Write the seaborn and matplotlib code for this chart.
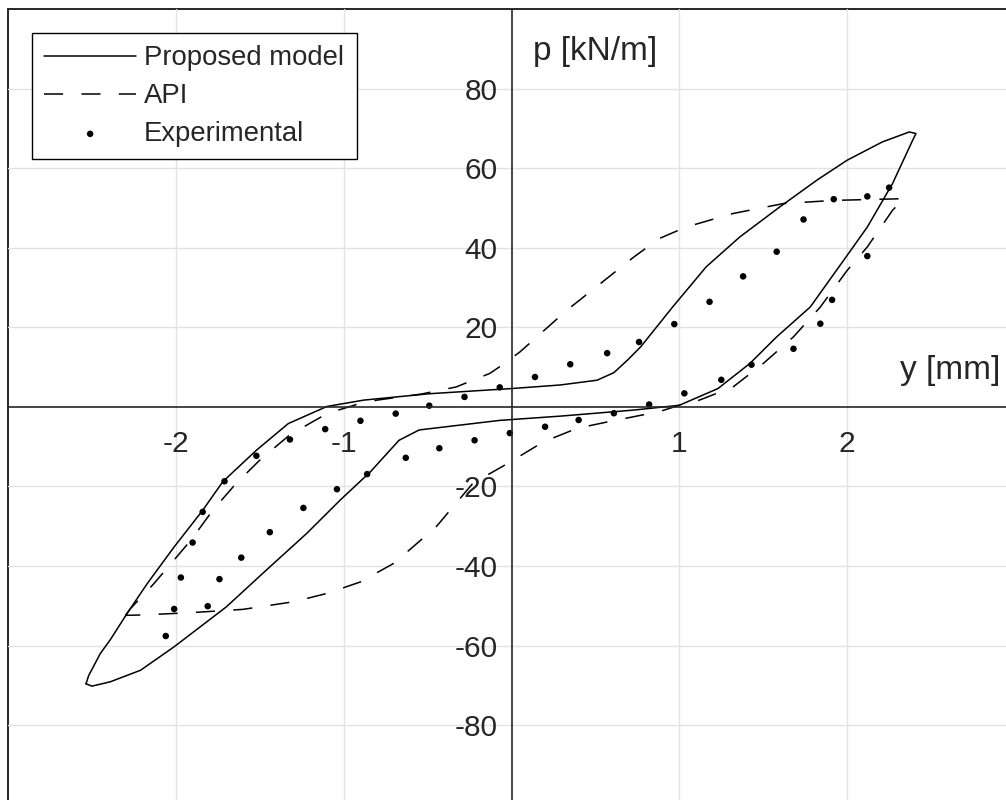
import matplotlib
matplotlib.use("Agg")
import matplotlib.pyplot as plt
import pandas as pd
import seaborn as sns

# Experimental cyclic p-y measurements (y in mm, p in kN/m)
exp_y = [-2.06, -2.01, -1.97, -1.90, -1.84, -1.71, -1.52, -1.32, -1.11, -0.90,
         -0.69, -0.49, -0.28, -0.07, 0.14, 0.35, 0.57, 0.76, 0.97, 1.18,
         1.38, 1.58, 1.74, 1.92, 2.12, 2.25,
         2.12, 1.91, 1.84, 1.68, 1.43, 1.25, 1.03, 0.82, 0.61, 0.40,
         0.20, -0.01, -0.22, -0.43, -0.63, -0.86, -1.04, -1.24, -1.44, -1.61,
         -1.74, -1.81]
exp_p = [-57.6, -50.8, -42.9, -34.1, -26.4, -18.7, -12.3, -8.2, -5.6, -3.5,
         -1.7, 0.3, 2.5, 4.9, 7.5, 10.7, 13.5, 16.3, 20.8, 26.4,
         32.8, 39.0, 47.1, 52.2, 52.9, 55.1,
         37.9, 26.9, 20.9, 14.6, 10.6, 6.8, 3.4, 0.6, -1.6, -3.3,
         -5.0, -6.6, -8.4, -10.4, -12.8, -16.9, -20.7, -25.4, -31.5, -37.9,
         -43.3, -50.1]

# Proposed model hysteresis loop (reloading branch, then unloading branch)
model_y = [-2.535, -2.52, -2.45, -2.39, -2.29, -2.17, -2.01, -1.84, -1.72, -1.52,
           -1.33, -1.10, -0.88, -0.49, 0.00, 0.29, 0.51, 0.61, 0.69, 0.77,
           0.96, 1.16, 1.36, 1.60, 1.82, 2.00, 2.21, 2.37, 2.41,
           2.39, 2.27, 2.12, 1.98, 1.78, 1.58, 1.42, 1.23, 1.00, 0.73,
           0.30, -0.07, -0.55, -0.67, -0.75, -0.84, -1.02, -1.22, -1.46, -1.70,
           -2.01, -2.21, -2.39, -2.50, -2.535]
model_p = [-69.6, -67.6, -62.0, -58.5, -51.9, -44.4, -35.2, -26.0, -18.8, -10.9,
           -4.2, 0.1, 1.7, 3.3, 4.6, 5.5, 6.7, 8.6, 11.7, 15.1,
           25.1, 35.2, 42.7, 50.3, 57.0, 62.0, 66.6, 69.1, 68.7,
           67.0, 56.1, 45.2, 36.9, 25.1, 17.6, 10.9, 4.6, 0.4, -0.8,
           -2.3, -3.4, -5.8, -8.4, -12.1, -16.3, -23.4, -31.8, -41.0, -50.3,
           -60.3, -66.2, -69.1, -70.2, -69.6]

# API p-y loop
api_y = [-2.30, -2.27, -2.13, -1.91, -1.78, -1.64, -1.50, -1.32, -1.10, -0.90,
         -0.80, -0.54, -0.33, -0.13, -0.07, 0.05, 0.13, 0.33, 0.53, 0.73,
         0.88, 1.04, 1.32, 1.62, 1.92, 2.31, 2.34,
         2.27, 2.12, 2.00, 1.84, 1.68, 1.50, 1.32, 1.12, 1.00, 0.88,
         0.57, 0.39, 0.19, -0.03, -0.23, -0.45, -0.70, -0.90, -1.10, -1.30,
         -1.60, -1.90, -2.19, -2.30]
api_p = [-52.4, -50.7, -44.4, -33.5, -26.0, -19.2, -13.4, -7.0, -1.7, 0.9,
         1.7, 3.2, 5.0, 8.4, 10.1, 13.8, 16.8, 24.3, 31.0, 37.7,
         42.3, 45.2, 48.6, 51.1, 51.9, 52.3, 52.4,
         49.4, 40.2, 34.3, 25.1, 17.6, 10.9, 5.0, 1.7, 0.4, -1.2,
         -3.8, -5.4, -8.8, -14.4, -19.2, -30.2, -39.3, -44.0, -46.9, -49.0,
         -50.9, -51.7, -52.3, -52.4]

x_ticks = [-2, -1, 1, 2]
p_ticks = [-80, -60, -40, -20, 20, 40, 60, 80]

sns.set_style("white")
plt.rcParams["font.family"] = ["Liberation Sans", "DejaVu Sans"]
plt.rcParams["axes.unicode_minus"] = False

ink = "#262626"

fig = plt.figure(figsize=(10.06, 8.0), dpi=100)
ax = fig.add_axes([0.00795, -0.00588, 1.001, 0.9946])

model_df = pd.DataFrame({"y": model_y, "p": model_p})
api_df = pd.DataFrame({"y": api_y, "p": api_p})
exp_df = pd.DataFrame({"y": exp_y, "p": exp_p})

sns.lineplot(data=model_df, x="y", y="p", sort=False, estimator=None,
             color="black", linewidth=1.1, ax=ax, label="Proposed model")
sns.lineplot(data=api_df, x="y", y="p", sort=False, estimator=None,
             color="black", linewidth=1.1, dashes=(12.5, 12.0), ax=ax, label="API")
sns.scatterplot(data=exp_df, x="y", y="p", color="black", s=22,
                edgecolor="none", ax=ax, label="Experimental")

ax.set_xlim(-3, 3)
ax.set_ylim(-100, 100)
ax.set_xticks(x_ticks)
ax.set_yticks(p_ticks)
ax.set_xlabel("")
ax.set_ylabel("")

# Axes crossing at the origin, with a box frame around the plotting area
ax.spines["left"].set_position(("data", 0))
ax.spines["bottom"].set_position(("data", 0))
ax.spines["top"].set_visible(False)
ax.spines["right"].set_visible(False)
for side in ("left", "bottom"):
    ax.spines[side].set_color(ink)
    ax.spines[side].set_linewidth(1.2)
ax.patch.set_edgecolor(ink)
ax.patch.set_linewidth(1.4)

ax.grid(True, color="#e2e2e2", linewidth=1.0)
ax.set_axisbelow(True)

ax.tick_params(direction="in", length=7.5, width=1.0, colors=ink, labelsize=21.5)
ax.tick_params(axis="x", pad=17)
ax.tick_params(axis="y", pad=10)

ax.text(0.128, 87.1, "p [kN/m]", fontsize=24, color=ink, ha="left", va="baseline")
ax.text(2.915, 7.1, "y [mm]", fontsize=24, color=ink, ha="right", va="baseline")

leg = ax.legend(loc="upper left", bbox_to_anchor=(0.0238, 0.9698), borderaxespad=0,
                frameon=True, fancybox=False, edgecolor="black", framealpha=1,
                fontsize=19.8, handlelength=3.33, borderpad=0.45, labelspacing=0.43,
                handletextpad=0.3, scatterpoints=1)
leg.get_frame().set_linewidth(1.0)

fig.savefig("out.png", dpi=100)
